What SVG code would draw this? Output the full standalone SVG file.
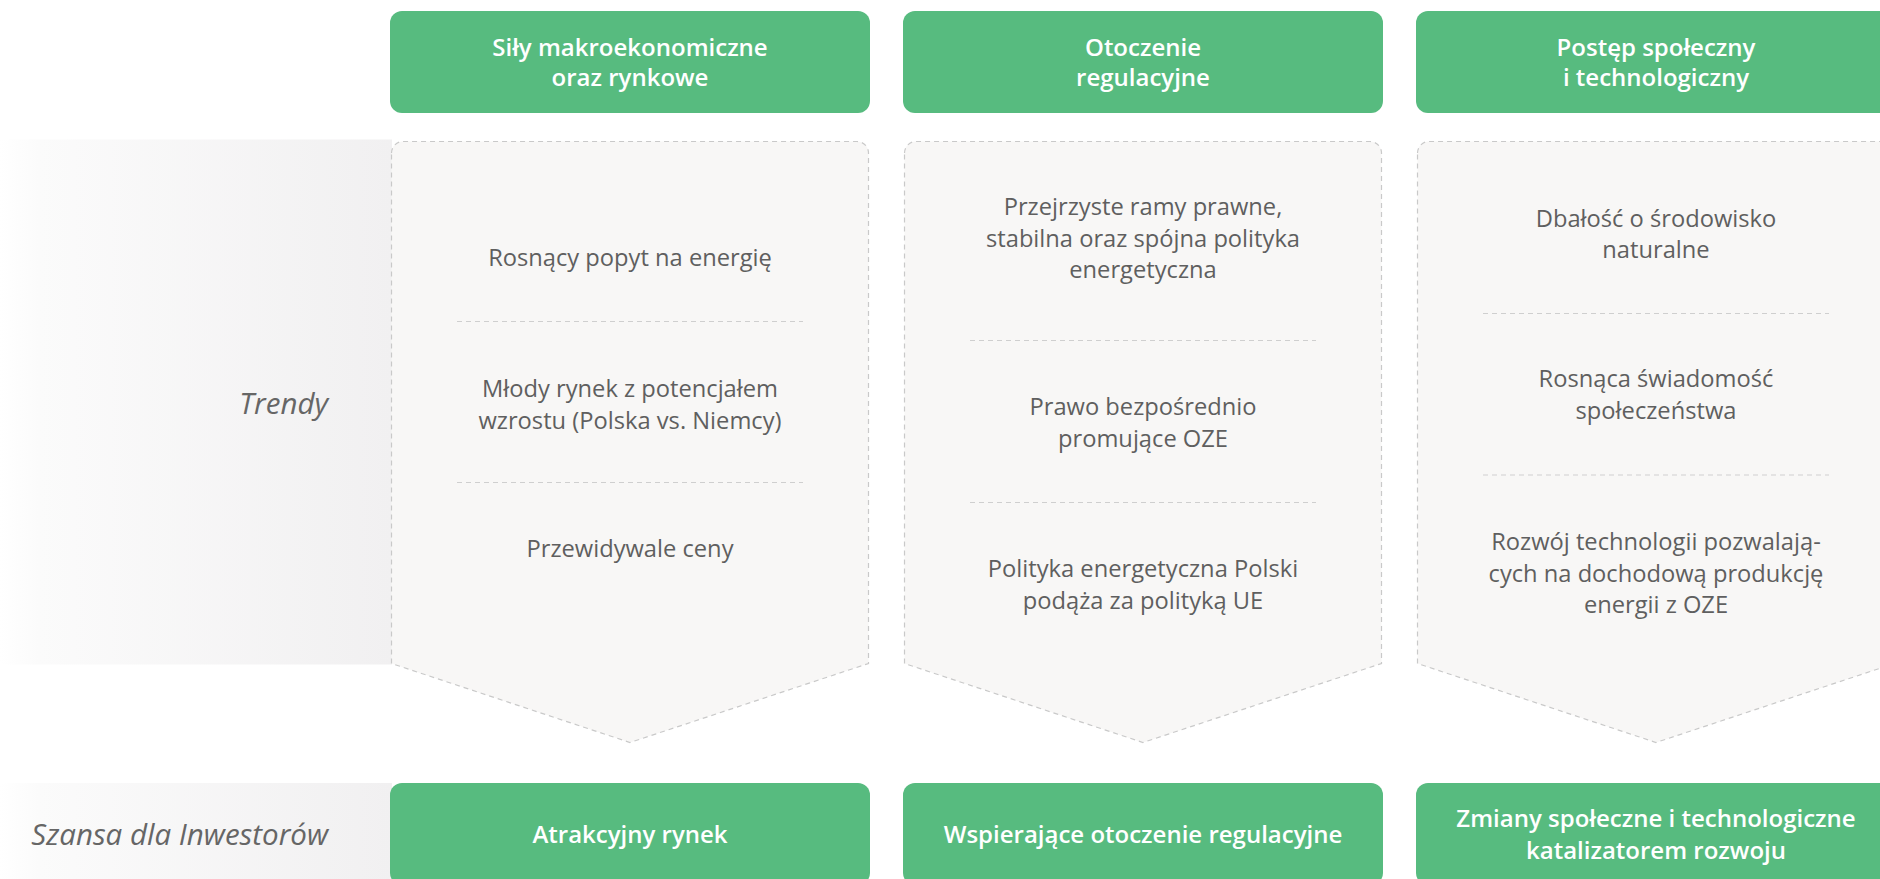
<svg xmlns="http://www.w3.org/2000/svg" width="1880" height="879" viewBox="0 0 1880 879">
<style>
.hdr{fill:#57bb7f}
.ht{font-family:"Open Sans","Noto Sans",sans-serif;font-weight:600;font-size:24px;fill:#ffffff;text-anchor:middle}
.panel{fill:#f8f7f6;stroke:#c9c9c9;stroke-width:1.2;stroke-dasharray:5 4}
.div{stroke:#cfcfcf;stroke-width:1.2;stroke-dasharray:5 4;fill:none}
.bt{font-family:"Open Sans","Noto Sans",sans-serif;font-size:23.7px;fill:#5f5f5f;text-anchor:middle}
.lbl{font-family:"Open Sans","Noto Sans",sans-serif;font-style:italic;font-size:29.5px;fill:#666666;text-anchor:end}
</style>
<defs>
<linearGradient id="band" x1="0" y1="0" x2="1" y2="0">
<stop offset="0" stop-color="#ffffff"/>
<stop offset="0.1" stop-color="#fbfbfb"/>
<stop offset="1" stop-color="#f1f0f1"/>
</linearGradient>
<path id="chev" d="M0.5 12 A11.5 11.5 0 0 1 12 0.5 L466 0.5 A11.5 11.5 0 0 1 477.5 12 L477.5 522.5 L239 601.5 L0.5 522.5 Z"/>
</defs>
<rect width="1880" height="879" fill="#ffffff"/>

<g id="row-labels">
<rect x="0" y="139.5" width="392" height="525" fill="url(#band)"/>
<rect x="0" y="783" width="392" height="96" fill="url(#band)"/>
<text class="lbl" x="328" y="414">Trendy</text>
<text class="lbl" x="328" y="845">Szansa dla Inwestorów</text>
</g>

<g id="header-1">
<rect class="hdr" x="390" y="11" width="480" height="102" rx="12"/>
<text class="ht" x="630" y="56">Siły makroekonomiczne</text>
<text class="ht" x="630" y="86">oraz rynkowe</text>
</g>
<g id="header-2">
<rect class="hdr" x="903" y="11" width="480" height="102" rx="12"/>
<text class="ht" x="1143" y="56">Otoczenie</text>
<text class="ht" x="1143" y="86">regulacyjne</text>
</g>
<g id="header-3">
<rect class="hdr" x="1416" y="11" width="480" height="102" rx="12"/>
<text class="ht" x="1656" y="56">Postęp społeczny</text>
<text class="ht" x="1656" y="86">i technologiczny</text>
</g>

<g id="trends-1">
<use href="#chev" class="panel" x="391" y="141"/>
<text class="bt" x="630" y="266">Rosnący popyt na energię</text>
<line class="div" x1="457" y1="321.5" x2="803" y2="321.5"/>
<text class="bt" x="630" y="397">Młody rynek z potencjałem</text>
<text class="bt" x="630" y="428.5">wzrostu (Polska vs. Niemcy)</text>
<line class="div" x1="457" y1="482.5" x2="803" y2="482.5"/>
<text class="bt" x="630" y="557">Przewidywale ceny</text>
</g>

<g id="trends-2">
<use href="#chev" class="panel" x="904" y="141"/>
<text class="bt" x="1143" y="215">Przejrzyste ramy prawne,</text>
<text class="bt" x="1143" y="246.5">stabilna oraz spójna polityka</text>
<text class="bt" x="1143" y="278">energetyczna</text>
<line class="div" x1="970" y1="340.5" x2="1316" y2="340.5"/>
<text class="bt" x="1143" y="415">Prawo bezpośrednio</text>
<text class="bt" x="1143" y="446.5">promujące OZE</text>
<line class="div" x1="970" y1="502.5" x2="1316" y2="502.5"/>
<text class="bt" x="1143" y="577">Polityka energetyczna Polski</text>
<text class="bt" x="1143" y="608.5">podąża za polityką UE</text>
</g>

<g id="trends-3">
<use href="#chev" class="panel" x="1417" y="141"/>
<text class="bt" x="1656" y="226.5">Dbałość o środowisko</text>
<text class="bt" x="1656" y="258">naturalne</text>
<line class="div" x1="1483" y1="313.5" x2="1829" y2="313.5"/>
<text class="bt" x="1656" y="387">Rosnąca świadomość</text>
<text class="bt" x="1656" y="418.5">społeczeństwa</text>
<line class="div" x1="1483" y1="475" x2="1829" y2="475"/>
<text class="bt" x="1656" y="550">Rozwój technologii pozwalają-</text>
<text class="bt" x="1656" y="581.5">cych na dochodową produkcję</text>
<text class="bt" x="1656" y="613">energii z OZE</text>
</g>

<g id="opportunity-1">
<rect class="hdr" x="390" y="783" width="480" height="102" rx="12"/>
<text class="ht" x="630" y="843">Atrakcyjny rynek</text>
</g>
<g id="opportunity-2">
<rect class="hdr" x="903" y="783" width="480" height="102" rx="12"/>
<text class="ht" x="1143" y="843">Wspierające otoczenie regulacyjne</text>
</g>
<g id="opportunity-3">
<rect class="hdr" x="1416" y="783" width="480" height="102" rx="12"/>
<text class="ht" x="1656" y="827">Zmiany społeczne i technologiczne</text>
<text class="ht" x="1656" y="859">katalizatorem rozwoju</text>
</g>

<g id="connectors"></g>
</svg>
